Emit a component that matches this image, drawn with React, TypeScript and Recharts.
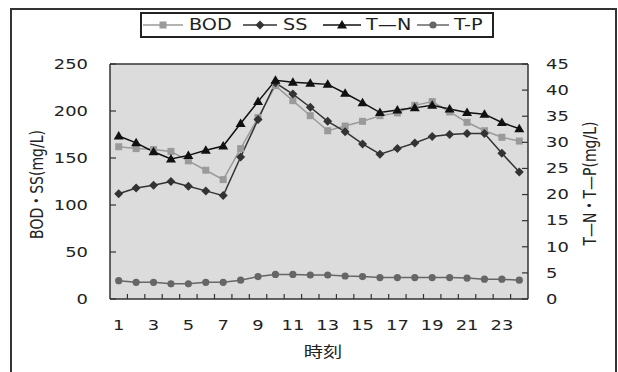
import React from 'react';
import { LineChart, Line, XAxis, YAxis, CartesianGrid, ReferenceLine, Label } from 'recharts';

// Hourly water quality readings
const hours = [1, 2, 3, 4, 5, 6, 7, 8, 9, 10, 11, 12, 13, 14, 15, 16, 17, 18, 19, 20, 21, 22, 23, 24];
const bod = [162, 160, 159, 157, 147, 137, 127, 160, 193, 227, 211, 195, 179, 184, 189, 195, 198, 206, 210, 199, 188, 179, 172, 168];
const ss = [112, 118, 121, 125, 120, 115, 110, 151, 191, 230, 218, 204, 189, 178, 165, 154, 160, 166, 173, 175, 176, 176, 155, 135];
const tn = [31.2, 29.9, 28.2, 26.8, 27.5, 28.5, 29.3, 33.6, 37.8, 41.9, 41.5, 41.3, 41.1, 39.4, 37.6, 35.7, 36.2, 36.6, 37.1, 36.4, 35.7, 35.4, 33.8, 32.6];
const tp = [3.5, 3.2, 3.2, 2.9, 2.9, 3.2, 3.2, 3.6, 4.3, 4.7, 4.7, 4.6, 4.6, 4.4, 4.3, 4.1, 4.1, 4.1, 4.1, 4.1, 4.0, 3.8, 3.8, 3.6];

const leftTicks = [0, 50, 100, 150, 200, 250];
const rightTicks = [0, 5, 10, 15, 20, 25, 30, 35, 40, 45];
const hourLabels = [1, 3, 5, 7, 9, 11, 13, 15, 17, 19, 21, 23];

const data = hours.map((h, i) => ({ hour: h, bod: bod[i], ss: ss[i], tn: tn[i], tp: tp[i] }));

// label ticks plus the in-between marks at category boundaries
const xTicks = [...hourLabels, ...hours.slice(0, -1).map((h) => h + 0.5)].sort((a, b) => a - b);

type MarkerKind = 'square' | 'diamond' | 'triangle' | 'circle';

const series: { key: string; name: string; color: string; marker: MarkerKind; axis: string }[] = [
  { key: 'bod', name: 'BOD', color: '#9a9a9a', marker: 'square', axis: 'left' },
  { key: 'ss', name: 'SS', color: '#333333', marker: 'diamond', axis: 'left' },
  { key: 'tn', name: 'T—N', color: '#111111', marker: 'triangle', axis: 'right' },
  { key: 'tp', name: 'T-P', color: '#666666', marker: 'circle', axis: 'right' },
];

const SX = 1.28; // wide lettering
const FONT = "'DejaVu Sans', 'Noto Sans CJK JP', sans-serif";
const INK = '#222';
const AXIS = '#333';

const WideText = ({ x, y, anchor = 'middle', size = 14, rotate, children }: any) => (
  <text
    transform={`translate(${x},${y}) scale(${SX},1)${rotate ? ` rotate(${rotate})` : ''}`}
    textAnchor={anchor}
    dominantBaseline="central"
    fontSize={size}
    fontFamily={FONT}
    fill={INK}
  >
    {children}
  </text>
);

const Marker = ({ kind, cx, cy, color }: { kind: MarkerKind; cx: number; cy: number; color: string }) => {
  if (kind === 'square') return <rect x={cx - 3.5} y={cy - 3.5} width={7} height={7} fill={color} />;
  if (kind === 'diamond')
    return <polygon points={`${cx},${cy - 4.5} ${cx + 4.5},${cy} ${cx},${cy + 4.5} ${cx - 4.5},${cy}`} fill={color} />;
  if (kind === 'triangle')
    return <polygon points={`${cx},${cy - 5} ${cx + 5},${cy + 3.5} ${cx - 5},${cy + 3.5}`} fill={color} />;
  return <circle cx={cx} cy={cy} r={3.6} fill={color} />;
};

const XTick = ({ x, y, payload }: any) => {
  const v = payload.value;
  if (Number.isInteger(v)) {
    return <WideText x={x} y={y + 26}>{v}</WideText>;
  }
  return <line x1={x} x2={x} y1={y} y2={y - 5} stroke={AXIS} strokeWidth={1.2} />;
};

const LeftTick = ({ x, y, payload }: any) => (
  <g>
    <line x1={x} x2={x + 6} y1={y} y2={y} stroke={AXIS} strokeWidth={1.2} />
    <WideText x={x - 22} y={y} anchor="end">{payload.value}</WideText>
  </g>
);

const RightTick = ({ x, y, payload }: any) => (
  <g>
    <line x1={x - 6} x2={x} y1={y} y2={y} stroke={AXIS} strokeWidth={1.2} />
    <WideText x={x + 18} y={y} anchor="start">{payload.value}</WideText>
  </g>
);

const LegendBox = () => {
  // line start, marker centre, text start for each entry
  const slots = [
    [2, 23, 49],
    [102, 120, 143],
    [182, 202, 226],
    [276, 293, 314],
  ];
  return (
    <svg width={356} height={28} style={{ position: 'absolute', left: 139, top: 11 }}>
      <rect x={2} y={2} width={352} height={24} fill="#ffffff" stroke="#222222" strokeWidth={2} />
      {series.map((s, i) => {
        const [lx, mx, tx] = slots[i];
        return (
          <g key={s.key}>
            <line x1={lx + 2} x2={mx * 2 - lx} y1={14} y2={14} stroke={s.color} strokeWidth={1.5} />
            <Marker kind={s.marker} cx={mx + 1} cy={14} color={s.color} />
            <WideText x={tx + 1} y={14} anchor="start" size={15}>{s.name}</WideText>
          </g>
        );
      })}
    </svg>
  );
};

export default function App() {
  return (
    <div style={{ position: 'absolute', left: 0, top: 0, width: 618, height: 372, overflow: 'hidden', background: '#fff' }}>
      <div
        style={{
          position: 'absolute',
          left: 10,
          top: 8,
          width: 607,
          height: 420,
          boxSizing: 'border-box',
          borderTop: `2px solid ${AXIS}`,
          borderLeft: `2px solid ${AXIS}`,
          borderRight: `2px solid ${AXIS}`,
        }}
      />
      <div style={{ position: 'absolute', left: 0, top: 0 }}>
        <LineChart width={618} height={372} data={data} margin={{ top: 64, right: 0, bottom: 33, left: 0 }}>
          <CartesianGrid fill="#dcdcdc" horizontal={false} vertical={false} />
          <XAxis
            dataKey="hour"
            type="number"
            domain={[0.5, 24.5]}
            ticks={xTicks}
            interval={0}
            height={40}
            tickSize={0}
            tickMargin={0}
            tickLine={false}
            axisLine={{ stroke: AXIS, strokeWidth: 1.5 }}
            tick={<XTick />}
          >
            <Label
              content={({ viewBox }: any) => (
                <WideText x={viewBox.x + viewBox.width / 2 + 4} y={viewBox.y + 53} size={15}>時刻</WideText>
              )}
            />
          </XAxis>
          <YAxis
            yAxisId="left"
            domain={[0, 250]}
            ticks={leftTicks}
            width={110}
            tickSize={0}
            tickMargin={0}
            tickLine={false}
            axisLine={{ stroke: AXIS, strokeWidth: 1.5 }}
            tick={<LeftTick />}
          >
            <Label
              content={({ viewBox }: any) => (
                <WideText x={viewBox.x + 37} y={viewBox.y + viewBox.height / 2 + 3} size={14} rotate={-90}>
                  BOD・SS(mg/L)
                </WideText>
              )}
            />
          </YAxis>
          <YAxis
            yAxisId="right"
            orientation="right"
            domain={[0, 45]}
            ticks={rightTicks}
            width={90}
            tickSize={0}
            tickMargin={0}
            tickLine={false}
            axisLine={{ stroke: AXIS, strokeWidth: 1.5 }}
            tick={<RightTick />}
          >
            <Label
              content={({ viewBox }: any) => (
                <WideText x={viewBox.x + 62} y={viewBox.y + viewBox.height / 2 + 2} size={14} rotate={-90}>
                  T—N・T—P(mg/L)
                </WideText>
              )}
            />
          </YAxis>
          <ReferenceLine yAxisId="left" y={250} stroke={AXIS} strokeWidth={1.5} />
          {series.map((s) => (
            <Line
              key={s.key}
              yAxisId={s.axis}
              dataKey={s.key}
              name={s.name}
              type="linear"
              stroke={s.color}
              strokeWidth={1.5}
              isAnimationActive={false}
              dot={(p: any) => <Marker key={`${s.key}-${p.index}`} kind={s.marker} cx={p.cx} cy={p.cy} color={s.color} />}
              activeDot={false}
            />
          ))}
        </LineChart>
      </div>
      <LegendBox />
    </div>
  );
}
